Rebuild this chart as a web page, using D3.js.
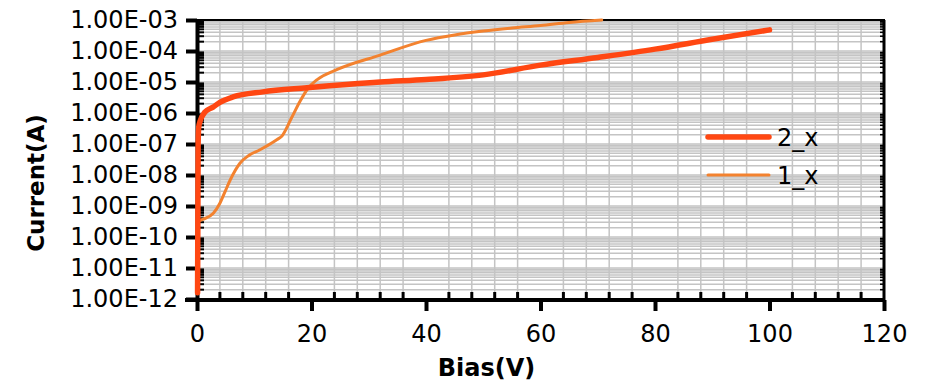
<!DOCTYPE html>
<html>
<head>
<meta charset="utf-8">
<script src="https://cdn.jsdelivr.net/npm/d3@7"></script>
<style>
  html, body { margin: 0; padding: 0; background: #fff; }
  svg { display: block; font-family: "DejaVu Sans", sans-serif; }
</style>
</head>
<body>
<svg id="chart" width="933" height="382"></svg>
<script>
// I-V sweep: bias voltage (V) vs leakage current (A)
const series2Bias = [0.1, 0.2, 0.3, 0.55, 1.4, 2.8, 4, 6.3, 11.5, 19.2, 32, 40, 50, 60, 70, 80, 90, 100];
const series2Current = [1.6e-12, 1e-7, 3.5e-7, 5.5e-7, 1.07e-6, 1.55e-6, 2.2e-6, 3.3e-6, 4.8e-6, 6.5e-6, 1e-5, 1.2e-5, 1.7e-5, 3.5e-5, 6.2e-5, 1.15e-4, 2.4e-4, 4.8e-4];

const series1Bias = [0, 1, 2.85, 4, 5, 5.8, 7.5, 9, 11, 14, 14.8, 16.5, 18, 19.4, 21, 24.4, 32, 40, 45, 50, 55, 60, 65, 70.7];
const series1Current = [3.2e-10, 3.7e-10, 5.8e-10, 1.23e-9, 3.2e-9, 6.9e-9, 2.4e-8, 4.2e-8, 6.5e-8, 1.4e-7, 1.78e-7, 6.9e-7, 2.4e-6, 6.3e-6, 1.2e-5, 2.5e-5, 7.4e-5, 2.2e-4, 3.3e-4, 4.4e-4, 5.5e-4, 6.6e-4, 8.3e-4, 1e-3];

const seriesNames = ["2_x", "1_x"];
const seriesColors = ["#ff4712", "#f3822f"];

const xTickValues = [0, 20, 40, 60, 80, 100, 120];
const xTickLabels = ["0", "20", "40", "60", "80", "100", "120"];
const yTickValues = [1e-12, 1e-11, 1e-10, 1e-9, 1e-8, 1e-7, 1e-6, 1e-5, 1e-4, 1e-3];
const yTickLabels = ["1.00E-12", "1.00E-11", "1.00E-10", "1.00E-09", "1.00E-08",
                     "1.00E-07", "1.00E-06", "1.00E-05", "1.00E-04", "1.00E-03"];
const xTitle = "Bias(V)";
const yTitle = "Current(A)";

const svg = d3.select("#chart");
const x = d3.scaleLinear().domain([0, 120]).range([197, 884]);
const y = d3.scaleLog().domain([1e-12, 1e-3]).range([299, 20]);
const [x0, x1] = x.range();
const [yb, yt] = y.range();

// minor positions
const yMinor = [];
for (let e = -12; e < -3; e++) for (let k = 2; k <= 9; k++) yMinor.push(k * Math.pow(10, e));
const xMinor = d3.range(4, 120, 4).filter(v => v % 20 !== 0);

// grid
const grid = svg.append("g").attr("stroke", "#c4c4c4").attr("stroke-width", 1.5);
grid.selectAll(".hy").data(yMinor.concat(yTickValues)).join("line")
  .attr("x1", x0).attr("x2", x1).attr("y1", d => y(d)).attr("y2", d => y(d));
grid.selectAll(".vx").data(xMinor).join("line")
  .attr("x1", d => x(d)).attr("x2", d => x(d)).attr("y1", yt).attr("y2", yb);

// frame: top and right
svg.append("line").attr("x1", x0).attr("x2", x1 + 1).attr("y1", yt).attr("y2", yt)
  .attr("stroke", "#000").attr("stroke-width", 2);
svg.append("line").attr("x1", x1).attr("x2", x1).attr("y1", yt).attr("y2", yb + 2)
  .attr("stroke", "#000").attr("stroke-width", 3);
svg.append("g").selectAll("line").data(yMinor).join("line")
  .attr("x1", x1 - 4).attr("x2", x1).attr("y1", d => y(d)).attr("y2", d => y(d))
  .attr("stroke", "#000").attr("stroke-width", 1.5);

// minor ticks on left and bottom (inward)
svg.append("g").selectAll("line").data(yMinor).join("line")
  .attr("x1", x0).attr("x2", x0 + 7).attr("y1", d => y(d)).attr("y2", d => y(d))
  .attr("stroke", "#000").attr("stroke-width", 2);
svg.append("g").selectAll("line").data(xMinor).join("line")
  .attr("x1", d => x(d)).attr("x2", d => x(d)).attr("y1", yb).attr("y2", yb - 7)
  .attr("stroke", "#000").attr("stroke-width", 3);

// left axis
const gy = svg.append("g").attr("transform", `translate(${x0},0)`)
  .call(d3.axisLeft(y).tickValues(yTickValues)
    .tickFormat((d, i) => yTickLabels[i]).tickSize(11).tickSizeOuter(0).tickPadding(8));
gy.select(".domain").attr("stroke-width", 4);
gy.selectAll(".tick line").attr("stroke-width", 4);
gy.selectAll(".tick text").attr("font-size", 24).attr("font-family", "DejaVu Sans").attr("fill", "#000");

// bottom axis
const gx = svg.append("g").attr("transform", `translate(0,${yb + 1})`)
  .call(d3.axisBottom(x).tickValues(xTickValues)
    .tickFormat((d, i) => xTickLabels[i]).tickSize(11).tickSizeOuter(0).tickPadding(14));
gx.select(".domain").attr("stroke-width", 4).attr("d", `M${x0 - 12},0H${x1 + 1}`);
gx.selectAll(".tick line").attr("stroke-width", 4);
gx.selectAll(".tick text").attr("font-size", 24).attr("font-family", "DejaVu Sans").attr("fill", "#000");

// axis titles
svg.append("text").attr("x", (x0 + x1) / 2 - 54).attr("y", 376)
  .attr("text-anchor", "middle").attr("font-size", 24).attr("font-weight", "bold")
  .text(xTitle);
svg.append("text").attr("transform", `translate(44,183) rotate(-90)`)
  .attr("text-anchor", "middle").attr("font-size", 23).attr("font-weight", "bold")
  .text(yTitle);

// data lines
const line = d3.line().x(d => x(d[0])).y(d => y(d[1])).curve(d3.curveMonotoneX);
const s1 = series1Bias.map((v, i) => [v, series1Current[i]]);
const s2 = series2Bias.map((v, i) => [v, series2Current[i]]);
svg.append("path").datum(s1).attr("d", line).attr("fill", "none")
  .attr("stroke", seriesColors[1]).attr("stroke-width", 3).attr("stroke-linecap", "round");
svg.append("path").datum(s2).attr("d", line).attr("fill", "none")
  .attr("stroke", seriesColors[0]).attr("stroke-width", 5.5).attr("stroke-linecap", "round")
  .attr("stroke-linejoin", "round");

// legend
const legend = svg.append("g");
const legY = [137, 175];
const legW = [5.5, 3];
seriesNames.forEach((name, i) => {
  legend.append("line").attr("x1", 708).attr("x2", 769).attr("y1", legY[i]).attr("y2", legY[i])
    .attr("stroke", seriesColors[i]).attr("stroke-width", legW[i]).attr("stroke-linecap", "round");
  legend.append("text").attr("x", 777).attr("y", legY[i] + 9)
    .attr("font-size", 24).attr("fill", "#000").text(name);
});
</script>
</body>
</html>
